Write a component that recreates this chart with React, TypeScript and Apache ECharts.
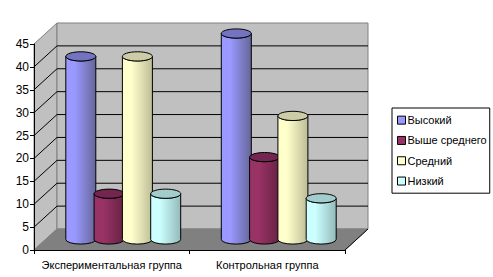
import React, { useEffect, useRef } from "react";
import * as echarts from "echarts";

const categories = ["Экспериментальная группа", "Контрольная группа"];
const seriesNames = ["Высокий", "Выше среднего", "Средний", "Низкий"];
const high = [40, 45];
const aboveAverage = [10, 18];
const average = [40, 27];
const low = [10, 9];
const seriesValues = [high, aboveAverage, average, low];
const yTicks = [0, 5, 10, 15, 20, 25, 30, 35, 40, 45];
const legendColors = ["#9999FF", "#993366", "#FFFFCC", "#CCFFFF"];
const darkColors = ["#666699", "#662244", "#BDBD97", "#94BABA"];
const topColors = ["#7373BF", "#732650", "#CCCCA6", "#A3CCCC"];

const DX = 23;
const DY = 21;
const FONT = "'Liberation Sans', Arial, sans-serif";

function renderWalls(_params: any, api: any) {
  const x0 = api.coord([0, 0])[0] - api.size([1, 0])[0] / 2;
  const x1 = x0 + api.size([1, 0])[0] * 2;
  const y0 = api.coord([0, 0])[1];
  const yTop = api.coord([0, 45])[1];
  const gray = "#808080";
  const children: any[] = [
    { type: "polygon", shape: { points: [[x0, y0], [x0 + DX, y0 - DY], [x0 + DX, yTop - DY], [x0, yTop]] }, style: { fill: "#C0C0C0", stroke: gray, lineWidth: 1 } },
    { type: "rect", shape: { x: x0 + DX, y: yTop - DY, width: x1 - x0, height: y0 - yTop }, style: { fill: "#C0C0C0", stroke: gray, lineWidth: 1 } },
    { type: "polygon", shape: { points: [[x0, y0], [x1, y0], [x1 + DX, y0 - DY], [x0 + DX, y0 - DY]] }, style: { fill: "#808080", stroke: gray, lineWidth: 1 } },
  ];
  yTicks.slice(1).forEach((v) => {
    const y = api.coord([0, v])[1];
    const stroke = "#000";
    if (v < 45) {
      children.push({ type: "polyline", shape: { points: [[x0, y], [x0 + DX, y - DY], [x1 + DX, y - DY]] }, style: { fill: null, stroke, lineWidth: 1 } });
    }
  });
  children.push({ type: "line", shape: { x1, y1: y0, x2: x1 + DX, y2: y0 - DY }, style: { stroke: "#000", lineWidth: 1 } });
  return { type: "group", children };
}

function makeRender(index: number) {
  return (_params: any, api: any) => {
    const band = api.size([1, 0])[0];
    const slot = band * 0.182;
    const r = slot * 0.53;
    const ry = 4.6;
    const cx = api.coord([api.value(0), 0])[0] + (index - 1.5) * slot + DX / 2;
    const yBase = api.coord([0, 0])[1] - DY / 2;
    const yTop = api.coord([0, api.value(1)])[1] - DY / 2;
    const d = `M${cx - r} ${yTop} L${cx - r} ${yBase} A${r} ${ry} 0 0 0 ${cx + r} ${yBase} L${cx + r} ${yTop} A${r} ${ry} 0 0 1 ${cx - r} ${yTop} Z`;
    const gradient = {
      type: "linear", x: 0, y: 0, x2: 1, y2: 0,
      colorStops: [
        { offset: 0, color: legendColors[index] },
        { offset: 0.3, color: legendColors[index] },
        { offset: 1, color: darkColors[index] },
      ],
    };
    return {
      type: "group",
      children: [
        { type: "path", shape: { pathData: d }, style: { fill: gradient, stroke: "#000", lineWidth: 1 } },
        { type: "ellipse", shape: { cx, cy: yTop, rx: r, ry }, style: { fill: topColors[index], stroke: "#000", lineWidth: 1 } },
      ],
    };
  };
}

export default function App() {
  const ref = useRef<HTMLDivElement>(null);
  useEffect(() => {
    const chart = echarts.init(ref.current!, undefined, { renderer: "svg" });
    chart.setOption({
      animation: false,
      backgroundColor: "#fff",
      textStyle: { fontFamily: FONT },
      grid: { left: 34, top: 44, width: 311, height: 206, containLabel: false },
      xAxis: {
        type: "category",
        data: categories,
        z: 5,
        axisLine: { show: true, lineStyle: { color: "#000", width: 1 } },
        axisTick: { show: true, length: 4, alignWithLabel: false, lineStyle: { color: "#000" } },
        axisLabel: { color: "#000", fontSize: 11, fontFamily: FONT, margin: 9, interval: 0 },
        splitLine: { show: false },
      },
      yAxis: {
        type: "value",
        min: 0,
        max: 45,
        interval: 5,
        z: 5,
        axisLine: { show: true, lineStyle: { color: "#000", width: 1 } },
        axisTick: { show: true, length: 4, lineStyle: { color: "#000" } },
        axisLabel: { color: "#000", fontSize: 12, fontFamily: FONT, margin: 5 },
        splitLine: { show: false },
      },
      legend: {
        orient: "vertical",
        left: 392,
        top: 108,
        padding: [6, 3, 6, 5],
        itemWidth: 8,
        itemHeight: 8,
        itemGap: 8,
        icon: "rect",
        borderColor: "#000",
        borderWidth: 1,
        backgroundColor: "#fff",
        data: seriesNames,
        textStyle: { color: "#000", fontSize: 11, fontFamily: FONT, padding: [0, 0, 0, -3], lineHeight: 12.3 },
        itemStyle: { borderColor: "#000", borderWidth: 1 },
      },
      series: [
        { type: "custom", silent: true, clip: false, z: 1, renderItem: renderWalls, data: [[0, 0]], encode: { x: 0, y: 1 } },
        ...seriesNames.map((name, i) => ({
          type: "custom",
          name,
          silent: true,
          clip: false,
          z: 2 + i,
          itemStyle: { color: legendColors[i] },
          renderItem: makeRender(i),
          data: seriesValues[i].map((v, k) => [k, v]),
          encode: { x: 0, y: 1 },
        })),
      ],
    });
    return () => chart.dispose();
  }, []);
  return <div ref={ref} style={{ position: "fixed", left: 0, top: 0, width: 493, height: 277 }} />;
}
